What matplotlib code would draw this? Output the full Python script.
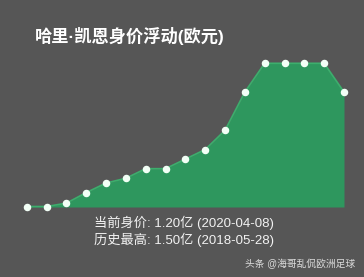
import matplotlib
matplotlib.use("Agg")
import matplotlib.pyplot as plt

# Latin glyphs from Liberation Sans, CJK falls back to Noto
plt.rcParams['font.family'] = ['Liberation Sans', 'Noto Sans CJK SC', 'DejaVu Sans']

# market value history, in 亿 euros
values = [0.005, 0.005, 0.04, 0.15, 0.25, 0.3, 0.4, 0.4, 0.5, 0.6,
          0.8, 1.2, 1.5, 1.5, 1.5, 1.5, 1.2]
title = "哈里·凯恩身价浮动(欧元)"
current_line = "当前身价: 1.20亿 (2020-04-08)"
peak_line = "历史最高: 1.50亿 (2018-05-28)"
watermark = "头条 @海哥乱侃欧洲足球"

bg = "#565656"
green = "#2e975e"

fig = plt.figure(figsize=(3.64, 2.77), dpi=100, facecolor=bg)
ax = fig.add_axes([26.7/364, 70/277, (344-26.7)/364, 143.7/277])
ax.set_facecolor(bg)

x = list(range(len(values)))
ax.fill_between(x, values, 0, color=green, linewidth=0)
ax.plot(x, values, color="#3dae6d", lw=1.2, marker="o", ms=4.4,
        mfc="#f2fff6", mec="#f2fff6", clip_on=False, zorder=3)
ax.set_xlim(0, len(values) - 1)
ax.set_ylim(0, 1.5)
ax.axis("off")

fig.text(35/364, 1 - 36/277, title, color="white", fontsize=12.4,
         fontweight="bold", ha="left", va="center")
fig.text(184/364, 1 - 223/277, current_line, color="#f2f2f2",
         fontsize=9.5, ha="center", va="center")
fig.text(184/364, 1 - 240/277, peak_line, color="#f2f2f2",
         fontsize=9.5, ha="center", va="center")
fig.text(355/364, 1 - 264/277, watermark, color="#dddddd",
         fontsize=7, ha="right", va="center")

fig.savefig("out.png", dpi=100, facecolor=bg)
